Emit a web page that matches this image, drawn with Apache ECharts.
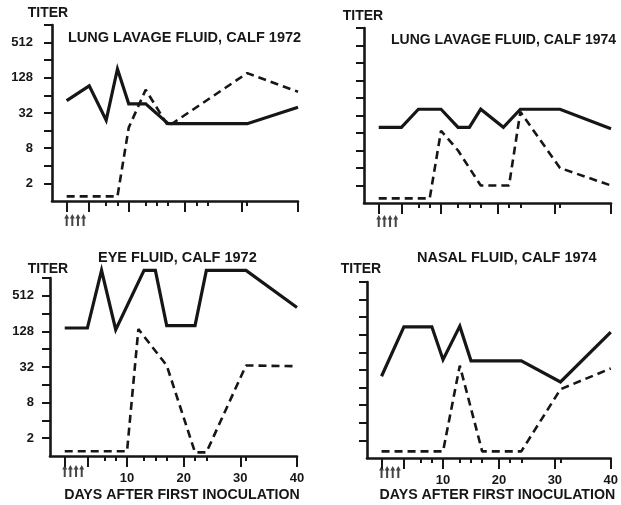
<!DOCTYPE html>
<html>
<head>
<meta charset="utf-8">
<script src="https://cdn.jsdelivr.net/npm/echarts@6/dist/echarts.min.js"></script>
<style>
html, body { margin: 0; padding: 0; background: #fff; }
#main { width: 621px; height: 505px; }
</style>
</head>
<body>
<div id="main"></div>
<script>
// titers, x = days after first inoculation
var lung72SolidDays = [-1, 3, 6, 8, 10, 13, 17, 31, 40];
var lung72SolidTiter = [52, 93, 24, 181, 46, 46, 21, 21, 40];
var lung72DashDays = [-1, 8, 10, 13, 17, 31, 40];
var lung72DashTiter = [1.2, 1.2, 18, 80, 19, 154, 74];

var lung74SolidDays = [-1, 3, 6, 10, 13, 15, 17, 21, 24, 31, 40];
var lung74SolidTiter = [20, 20, 41, 41, 20, 20, 41, 20, 41, 41, 19];
var lung74DashDays = [-1, 8, 10, 13, 17, 22, 24, 31, 40];
var lung74DashTiter = [1.2, 1.2, 17.5, 8, 2, 2, 37, 4, 2];

var eye72SolidDays = [-1, 3, 5.5, 8, 13, 15, 17, 22, 24, 31, 40];
var eye72SolidTiter = [146, 146, 1380, 137, 1380, 1380, 160, 160, 1380, 1380, 324];
var eye72DashDays = [-1, 10, 12, 17, 22, 24, 31, 40];
var eye72DashTiter = [1.2, 1.2, 140, 34, 1.15, 1.15, 34, 33];

var nasal74SolidDays = [-1, 3, 8, 10, 13, 15, 24, 31, 40];
var nasal74SolidTiter = [25, 175, 175, 48, 180, 46, 46, 20, 142];
var nasal74DashDays = [-1, 10, 13, 17, 24, 31, 40];
var nasal74DashTiter = [1.3, 1.3, 38, 1.3, 1.3, 15, 34];

var inoculationDays = [-1, 0, 1, 2];

var majorDayTicks = [-1, 3, 10, 20, 30, 40];
var minorDayTicks = [6, 8, 13, 15, 17, 22, 24, 31];
var dayLabels = [10, 20, 30, 40];
var titerTicks = [2, 4, 8, 16, 32, 64, 128, 256, 512, 1024];
var titerLabels = [2, 8, 32, 128, 512];

var panelTitles = ['LUNG LAVAGE FLUID, CALF 1972', 'LUNG LAVAGE FLUID, CALF 1974',
                   'EYE FLUID, CALF 1972', 'NASAL FLUID, CALF 1974'];

var ink = '#161616';
var font = 'Liberation Sans';

function pairs(xs, ys) {
    return xs.map(function (x, i) { return [x, ys[i]]; });
}

var myChart = echarts.init(document.getElementById('main'));

// grid boxes [left, top, width, height]
var boxes = [
    [52, 25, 246, 176],
    [364, 28, 247, 175],
    [50, 278, 247, 178],
    [367, 282, 244, 176]
];
var titlePos = [[68, 30], [391, 33], [98, 250], [417, 250]];
var titleSize = [14.5, 14, 14.5, 14.5];
var labelMargin = [19, 0, 16, 0];
var nameGapY = [5, 5, 2, 6];
var namePadY = [[0, 8, 0, 0], [0, 2, 0, 0], [0, 4, 0, 0], [0, 12, 0, 0]];
var nameGapX = [0, 0, 32, 27];
var arrowOffset = [19, 18, 15, 14];

var grids = [], xAxes = [], yAxes = [], series = [], titles = [];

boxes.forEach(function (b, i) {
    grids.push({ left: b[0], top: b[1], width: b[2], height: b[3] });
    titles.push({
        text: panelTitles[i], left: titlePos[i][0], top: titlePos[i][1], padding: 0,
        textStyle: { fontFamily: font, fontSize: titleSize[i], fontWeight: 'bold', color: ink }
    });
    var bottomRow = i >= 2;
    xAxes.push({
        type: 'value', gridIndex: i, min: -3.6, max: 40, position: 'bottom',
        axisLine: { onZero: false, lineStyle: { color: ink, width: 2.6 } },
        axisTick: { customValues: majorDayTicks, length: 11, lineStyle: { color: ink, width: 2 } },
        axisLabel: {
            show: bottomRow, customValues: dayLabels, margin: 16,
            fontFamily: font, fontSize: 13, fontWeight: 'bold', color: ink
        },
        splitLine: { show: false },
        name: bottomRow ? 'DAYS AFTER FIRST INOCULATION' : '',
        nameLocation: 'middle', nameGap: nameGapX[i],
        nameTextStyle: {
            fontFamily: font, fontSize: 14.2, fontWeight: 'bold', color: ink,
            padding: [0, 0, 0, 17]
        }
    });
    xAxes.push({
        type: 'value', gridIndex: i, min: -3.6, max: 40, position: 'bottom',
        axisLine: { show: false, onZero: false },
        axisTick: { customValues: minorDayTicks, length: 5, lineStyle: { color: ink, width: 2 } },
        axisLabel: { show: false },
        splitLine: { show: false }
    });
    yAxes.push({
        type: 'log', logBase: 2, gridIndex: i, min: 1, max: 1024, position: 'left',
        axisLine: { show: true, onZero: false, lineStyle: { color: ink, width: 2.6 } },
        axisTick: { show: true, customValues: titerTicks, length: 8, lineStyle: { color: ink, width: 2 } },
        axisLabel: {
            show: i % 2 == 0, customValues: titerLabels, margin: labelMargin[i],
            fontFamily: font, fontSize: 13, fontWeight: 'bold', color: ink
        },
        splitLine: { show: false },
        name: 'TITER', nameLocation: 'end', nameGap: nameGapY[i],
        nameTextStyle: {
            fontFamily: font, fontSize: 14, fontWeight: 'bold', color: ink,
            padding: namePadY[i]
        }
    });
    series.push({
        type: 'scatter', xAxisIndex: i * 2, yAxisIndex: i,
        data: inoculationDays.map(function (d) { return [d, 1]; }),
        symbol: 'path://M2,0 L4,4.5 L2.8,4.5 L2.8,12 L1.2,12 L1.2,4.5 L0,4.5 Z',
        symbolSize: [5, 12], symbolOffset: [0, arrowOffset[i]],
        itemStyle: { color: ink }, clip: false, silent: true
    });
});

var solid = [pairs(lung72SolidDays, lung72SolidTiter), pairs(lung74SolidDays, lung74SolidTiter),
             pairs(eye72SolidDays, eye72SolidTiter), pairs(nasal74SolidDays, nasal74SolidTiter)];
var dashed = [pairs(lung72DashDays, lung72DashTiter), pairs(lung74DashDays, lung74DashTiter),
              pairs(eye72DashDays, eye72DashTiter), pairs(nasal74DashDays, nasal74DashTiter)];

for (var i = 0; i < 4; i++) {
    series.push({
        type: 'line', xAxisIndex: i * 2, yAxisIndex: i, data: solid[i],
        symbol: 'none', clip: false,
        lineStyle: { color: ink, width: 3.2, join: 'miter' }
    });
    series.push({
        type: 'line', xAxisIndex: i * 2, yAxisIndex: i, data: dashed[i],
        symbol: 'none', clip: false,
        lineStyle: { color: ink, width: 2.6, type: [8, 5] }
    });
}

option = {
    backgroundColor: '#fff',
    animation: false,
    title: titles,
    grid: grids,
    xAxis: xAxes,
    yAxis: yAxes,
    series: series
};

myChart.setOption(option);
</script>
</body>
</html>
